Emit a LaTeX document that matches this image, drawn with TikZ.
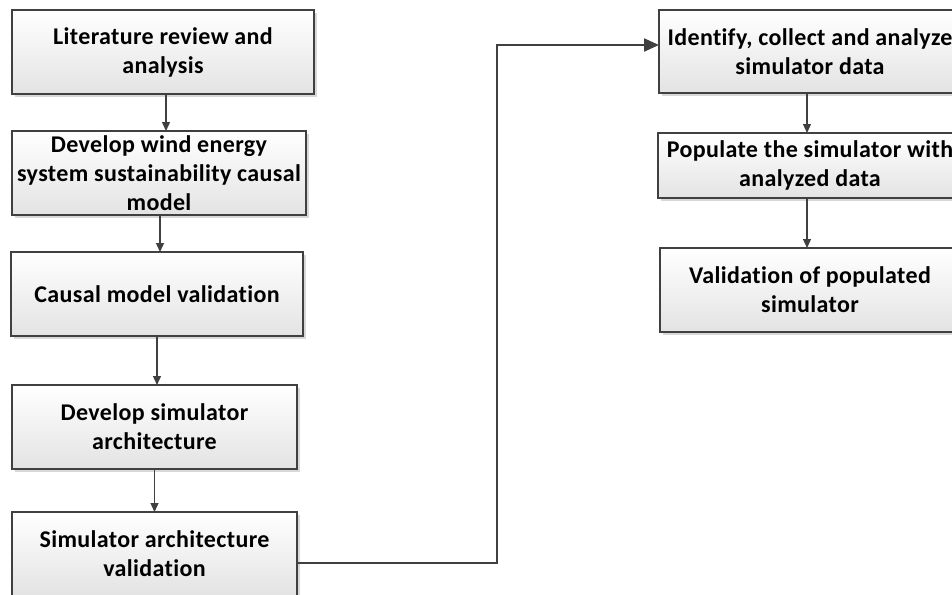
\documentclass[tikz,border=0pt]{standalone}
\usepackage{fontspec}
\setmainfont{Carlito}[Ligatures={NoCommon}, LetterSpace=1.5]
\usetikzlibrary{shadows,arrows.meta}
\definecolor{edgegray}{HTML}{404040}
\definecolor{boxbottom}{HTML}{E3E3E3}
\begin{document}
\begin{tikzpicture}[x=1pt,y=-1pt,
  stepbox/.style={draw=edgegray, line width=1.3pt, top color=white, bottom color=boxbottom,
    drop shadow={shadow xshift=3pt, shadow yshift=-3pt, fill=black!30, opacity=0.5},
    inner sep=0pt, outer sep=0pt, minimum height=84pt, align=center,
    font=\bfseries\fontsize{24}{29}\selectfont},
  flow/.style={draw=edgegray, line width=1.3pt, -{Triangle[length=9pt,width=8pt]}},
  bigflow/.style={draw=edgegray, line width=2.2pt, -{Triangle[length=15pt,width=13pt]}}]
\path[use as bounding box, clip] (0,0) rectangle (952,594);

% left column
\node[stepbox, minimum width=302pt] (b1) at (163,52) {Literature review and\\analysis};
\node[stepbox, minimum width=294pt] (b2) at (159,173) {Develop wind energy\\system sustainability causal\\model};
\node[stepbox, minimum width=292pt] (b3) at (157,294) {Causal model validation};
\node[stepbox, minimum width=285pt] (b4) at (154.5,427) {Develop simulator\\architecture};
\node[stepbox, minimum width=285pt] (b5) at (154.5,554) {Simulator architecture\\validation};

% right column
\node[stepbox, minimum width=302pt, minimum height=83pt] (b6) at (810,51.5) {Identify, collect and analyze\\simulator data};
\node[stepbox, minimum width=304pt, minimum height=65pt] (b7) at (810,165.5) {Populate the simulator with\\analyzed data};
\node[stepbox, minimum width=300pt] (b8) at (810,290) {Validation of populated\\simulator};

% vertical links
\draw[flow] ([xshift=3pt]b1.south) -- ([xshift=3pt]b1.south |- b2.north);
\draw[flow] ([xshift=1pt]b2.south) -- ([xshift=1pt]b2.south |- b3.north);
\draw[flow] (b3.south) -- (b3.south |- b4.north);
\draw[flow] (b4.south) -- (b4.south |- b5.north);
\draw[flow] ([xshift=-3pt]b6.south) -- ([xshift=-3pt]b6.south |- b7.north);
\draw[flow] ([xshift=-3pt]b7.south) -- ([xshift=-3pt]b7.south |- b8.north);

% link between the columns
\coordinate (elbow) at (497,45);
\draw[bigflow] ([yshift=-9pt]b5.east) -| (elbow) -- (elbow -| b6.west);
\end{tikzpicture}
\end{document}
